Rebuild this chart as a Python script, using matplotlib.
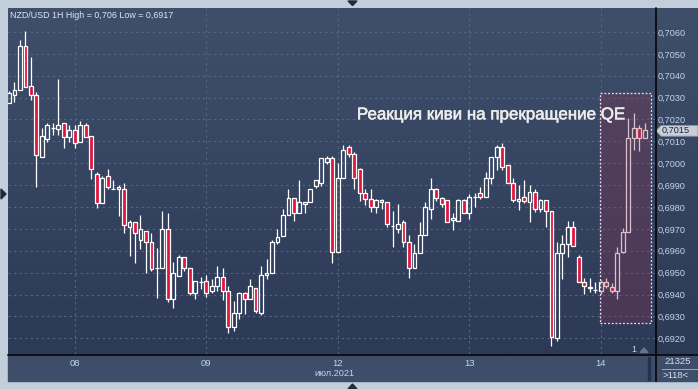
import numpy as np
import matplotlib
matplotlib.use("Agg")
import matplotlib.pyplot as plt
import matplotlib.patheffects as pe
from matplotlib.patches import Rectangle, Polygon
from matplotlib.lines import Line2D
from matplotlib.colors import LinearSegmentedColormap

plt.rcParams['font.family'] = ['Liberation Sans', 'DejaVu Sans']

# NZD/USD hourly candles
opens = [0.70274, 0.70311, 0.70333, 0.70536, 0.70353, 0.70311, 0.70030, 0.70110, 0.70160, 0.70158,
         0.70183, 0.70121, 0.70152, 0.70099, 0.70174, 0.70125, 0.69951, 0.69820, 0.69940, 0.69881,
         0.69881, 0.69881, 0.69710, 0.69730, 0.69648, 0.69689, 0.69639, 0.69520, 0.69520, 0.69698,
         0.69378, 0.69486, 0.69570, 0.69520, 0.69408, 0.69459, 0.69460, 0.69418, 0.69439, 0.69479,
         0.69418, 0.69250, 0.69317, 0.69408, 0.69378, 0.69429, 0.69317, 0.69488, 0.69497, 0.69639,
         0.69669, 0.69762, 0.69840, 0.69771, 0.69822, 0.69822, 0.69897, 0.69908, 0.70007, 0.70023,
         0.69596, 0.69931, 0.70074, 0.70042, 0.69972, 0.69863, 0.69838, 0.69799, 0.69832, 0.69822,
         0.69713, 0.69698, 0.69730, 0.69639, 0.69520, 0.69588, 0.69671, 0.69790, 0.69881, 0.69840,
         0.69832, 0.69741, 0.69737, 0.69832, 0.69771, 0.69847, 0.69863, 0.69847, 0.69931, 0.70030,
         0.70073, 0.69991, 0.69908, 0.69829, 0.69847, 0.69822, 0.69870, 0.69790, 0.69832, 0.69780,
         0.69200, 0.69588, 0.69630, 0.69710, 0.69573, 0.69459, 0.69436, 0.69421, 0.69418, 0.69459,
         0.69436, 0.69418, 0.69596, 0.69687, 0.70115, 0.70160, 0.70115]
highs = [0.70330, 0.70371, 0.70563, 0.70604, 0.70487, 0.70326, 0.70163, 0.70183, 0.70183, 0.70385,
         0.70183, 0.70174, 0.70174, 0.70193, 0.70183, 0.70125, 0.69960, 0.69940, 0.69972, 0.69923,
         0.69901, 0.69908, 0.69741, 0.69730, 0.69764, 0.69689, 0.69680, 0.69613, 0.69780, 0.69771,
         0.69547, 0.69579, 0.69570, 0.69520, 0.69460, 0.69479, 0.69488, 0.69470, 0.69529, 0.69520,
         0.69439, 0.69370, 0.69413, 0.69413, 0.69470, 0.69429, 0.69530, 0.69561, 0.69649, 0.69698,
         0.69791, 0.69882, 0.69840, 0.69922, 0.69822, 0.69882, 0.69922, 0.70023, 0.70033, 0.70033,
         0.70000, 0.70083, 0.70083, 0.70053, 0.69977, 0.69882, 0.69882, 0.69838, 0.69838, 0.69822,
         0.69782, 0.69812, 0.69741, 0.69671, 0.69630, 0.69732, 0.69824, 0.69931, 0.69886, 0.69847,
         0.69832, 0.69774, 0.69838, 0.69838, 0.69860, 0.69863, 0.69890, 0.69961, 0.70030, 0.70083,
         0.70094, 0.69991, 0.69931, 0.69901, 0.69923, 0.69901, 0.69881, 0.69838, 0.69832, 0.69780,
         0.69639, 0.69672, 0.69735, 0.69735, 0.69581, 0.69474, 0.69474, 0.69459, 0.69466, 0.69474,
         0.69451, 0.69619, 0.69703, 0.70205, 0.70231, 0.70175, 0.70183]
lows = [0.70274, 0.70281, 0.70333, 0.70350, 0.70289, 0.69890, 0.70030, 0.70099, 0.70129, 0.70129,
        0.70071, 0.70099, 0.70071, 0.70099, 0.70121, 0.69929, 0.69797, 0.69820, 0.69881, 0.69881,
        0.69759, 0.69680, 0.69578, 0.69546, 0.69608, 0.69497, 0.69509, 0.69386, 0.69520, 0.69367,
        0.69337, 0.69486, 0.69509, 0.69397, 0.69378, 0.69427, 0.69387, 0.69408, 0.69418, 0.69375,
        0.69226, 0.69235, 0.69287, 0.69311, 0.69378, 0.69317, 0.69306, 0.69470, 0.69497, 0.69630,
        0.69669, 0.69762, 0.69737, 0.69771, 0.69771, 0.69822, 0.69888, 0.69897, 0.69998, 0.69546,
        0.69596, 0.69931, 0.70030, 0.69881, 0.69829, 0.69809, 0.69779, 0.69771, 0.69790, 0.69710,
        0.69619, 0.69680, 0.69619, 0.69477, 0.69520, 0.69588, 0.69671, 0.69745, 0.69829, 0.69801,
        0.69730, 0.69695, 0.69737, 0.69771, 0.69745, 0.69799, 0.69838, 0.69847, 0.69905, 0.69969,
        0.69969, 0.69908, 0.69823, 0.69786, 0.69817, 0.69730, 0.69779, 0.69779, 0.69710, 0.69165,
        0.69189, 0.69470, 0.69573, 0.69622, 0.69459, 0.69401, 0.69413, 0.69408, 0.69401, 0.69429,
        0.69408, 0.69378, 0.69588, 0.69687, 0.70061, 0.70057, 0.70115]
closes = [0.70322, 0.70335, 0.70536, 0.70350, 0.70311, 0.70039, 0.70125, 0.70174, 0.70160, 0.70174,
          0.70121, 0.70152, 0.70091, 0.70174, 0.70121, 0.69972, 0.69820, 0.69931, 0.69890, 0.69881,
          0.69890, 0.69719, 0.69730, 0.69680, 0.69698, 0.69639, 0.69517, 0.69520, 0.69698, 0.69378,
          0.69497, 0.69570, 0.69520, 0.69406, 0.69460, 0.69459, 0.69408, 0.69439, 0.69479, 0.69418,
          0.69250, 0.69317, 0.69408, 0.69378, 0.69439, 0.69326, 0.69489, 0.69497, 0.69639, 0.69662,
          0.69762, 0.69840, 0.69771, 0.69822, 0.69812, 0.69882, 0.69922, 0.70023, 0.70023, 0.69596,
          0.69931, 0.70059, 0.70042, 0.69931, 0.69863, 0.69838, 0.69799, 0.69832, 0.69822, 0.69721,
          0.69713, 0.69721, 0.69640, 0.69520, 0.69588, 0.69671, 0.69799, 0.69881, 0.69840, 0.69812,
          0.69730, 0.69748, 0.69832, 0.69771, 0.69847, 0.69847, 0.69847, 0.69931, 0.70030, 0.70073,
          0.69982, 0.69908, 0.69832, 0.69838, 0.69829, 0.69870, 0.69790, 0.69832, 0.69780, 0.69207,
          0.69588, 0.69630, 0.69710, 0.69622, 0.69459, 0.69439, 0.69429, 0.69421, 0.69459, 0.69439,
          0.69418, 0.69588, 0.69687, 0.70115, 0.70160, 0.70115, 0.70152]

day_starts = [12, 36, 60, 84, 108]
day_labels = ["08", "09", "12", "13", "14"]
price_ticks = [0.6920, 0.6930, 0.6940, 0.6950, 0.6960, 0.6970, 0.6980, 0.6990,
               0.7000, 0.7010, 0.7020, 0.7030, 0.7040, 0.7050, 0.7060]
last_price = 0.7015

W, H = 698, 389
def fx(px): return px / W
def fy(py): return 1 - py / H

col_frame = "#c3cedb"
col_strip = "#3e4d69"
col_red = "#e0143c"
col_label = "#c2d4ee"
col_grid = "#58667f"

fig = plt.figure(figsize=(W / 100, H / 100), dpi=100, facecolor=col_frame)

# gradient background of plot + price scale
bg = fig.add_axes([fx(8), fy(354), fx(698) - fx(8), fy(8) - fy(354)])
grad_cmap = LinearSegmentedColormap.from_list("bg", ["#2c3957", "#3f4f6b"])
bg.imshow(np.linspace(0, 1, 256).reshape(-1, 1), aspect="auto", cmap=grad_cmap,
          origin="lower", extent=[0, 1, 0, 1])
bg.axis("off")

# time strip at the bottom (behind the axes so tick labels stay visible)
fig.patches.append(Rectangle((fx(8), fy(381)), fx(698) - fx(8), fy(354) - fy(381),
                             transform=fig.transFigure, color=col_strip, zorder=-2))
fig.patches.append(Rectangle((fx(648), fy(380)), fx(2), fy(357) - fy(380),
                             transform=fig.transFigure, color="#28324a", zorder=-1))

ax = fig.add_axes([fx(8), fy(354), fx(655) - fx(8), fy(8) - fy(354)])
ax.set_facecolor("none")
ax.set_xlim(-0.18, 117.9)
ax.set_ylim(0.691282, 0.707096)
for s in ax.spines.values():
    s.set_visible(False)

ax.yaxis.tick_right()
ax.set_yticks(price_ticks)
ax.set_yticklabels([("%.4f" % p).replace(".", ",") for p in price_ticks])
ax.set_xticks(day_starts)
ax.set_xticklabels(day_labels)
ax.tick_params(axis="y", length=0, pad=2.2, labelsize=6.6, labelcolor=col_label)
ax.tick_params(axis="x", length=0, pad=3.5, labelsize=6.8, labelcolor=col_label)
ax.grid(True, color=col_grid, linestyle=(0, (2, 3)), linewidth=0.8)
ax.set_axisbelow(True)

# candles
bw = 0.7
for i in range(len(opens)):
    o, h, l, c = opens[i], highs[i], lows[i], closes[i]
    top, bot = max(o, c), min(o, c)
    ax.plot([i, i], [top, h], color="white", lw=0.9, zorder=3, solid_capstyle="butt")
    ax.plot([i, i], [l, bot], color="white", lw=0.9, zorder=3, solid_capstyle="butt")
    fc = col_red if c < o else "none"
    ax.add_patch(Rectangle((i - bw / 2, bot), bw, top - bot, facecolor=fc,
                           edgecolor="white", lw=0.9, zorder=4))

# QE highlight box
x0, x1 = 107.9, 117.1
y0, y1 = 0.692686, 0.703225
ax.add_patch(Rectangle((x0, y0), x1 - x0, y1 - y0, facecolor="#8c3250", alpha=0.3,
                       edgecolor="none", zorder=5))
ax.add_patch(Rectangle((x0, y0), x1 - x0, y1 - y0, facecolor="none", edgecolor="#ece4ea",
                       lw=0.9, linestyle=(0, (1.5, 1.5)), zorder=6))
ax.text(63.5, 0.70201, "Реакция киви на прекращение QE", color="#ececec",
        fontsize=12.2, va="baseline", ha="left", zorder=7,
        path_effects=[pe.withStroke(linewidth=0.4, foreground="#ececec")])

# separators
fig.add_artist(Line2D([fx(655.5)] * 2, [fy(8), fy(381)], color="black", lw=1.1,
                      transform=fig.transFigure))
fig.add_artist(Line2D([fx(8), fx(698)], [fy(354.5)] * 2, color="black", lw=1.1,
                      transform=fig.transFigure))

# current price marker
py = fy(130.8)
marker = Polygon([(fx(656), py), (fx(661), fy(125.5)), (fx(698), fy(125.5)),
                  (fx(698), fy(136.2)), (fx(661), fy(136.2))],
                 closed=True, transform=fig.transFigure, facecolor="#c9ced6",
                 edgecolor="#8a94a6", lw=0.6)
fig.add_artist(marker)
fig.text(fx(662), py, ("%.4f" % last_price).replace(".", ","), fontsize=6.6,
         color="#1c2840", va="center", ha="left")

# texts
fig.text(fx(10), fy(15), "NZD/USD 1H High = 0,706 Low = 0,6917", fontsize=6.4,
         color="#dde6f2", va="center", ha="left")
fig.text(fx(334.5), fy(374), "июл.2021", fontsize=6.6, color=col_label,
         va="center", ha="center")
fig.text(fx(678), fy(361.5), "21325", fontsize=6.8, color="#d6e0ee", va="center", ha="center")
fig.add_artist(Line2D([fx(662), fx(698)], [fy(368.5)] * 2, color="#9aa8be", lw=0.7,
                      transform=fig.transFigure))
fig.text(fx(676), fy(375), ">118<", fontsize=6.8, color="#d6e0ee", va="center", ha="center")
fig.text(fx(634), fy(349.5), "1", fontsize=6.4, color=col_label, va="center", ha="center")
fig.add_artist(Polygon([(fx(640), fy(352.5)), (fx(648), fy(352.5)), (fx(644), fy(348))],
                       closed=True, transform=fig.transFigure, color="#66748d"))

# small navigation arrows on the frame
tri = "#1f2a40"
fig.add_artist(Polygon([(fx(348), fy(1)), (fx(357), fy(1)), (fx(352.5), fy(5.5))],
                       closed=True, transform=fig.transFigure, color=tri))
fig.add_artist(Polygon([(fx(1), fy(189)), (fx(1), fy(199)), (fx(6), fy(194))],
                       closed=True, transform=fig.transFigure, color=tri))
fig.add_artist(Polygon([(fx(348), fy(389)), (fx(357), fy(389)), (fx(352.5), fy(384))],
                       closed=True, transform=fig.transFigure, color=tri))

fig.savefig("out.png", dpi=100, facecolor=col_frame)
